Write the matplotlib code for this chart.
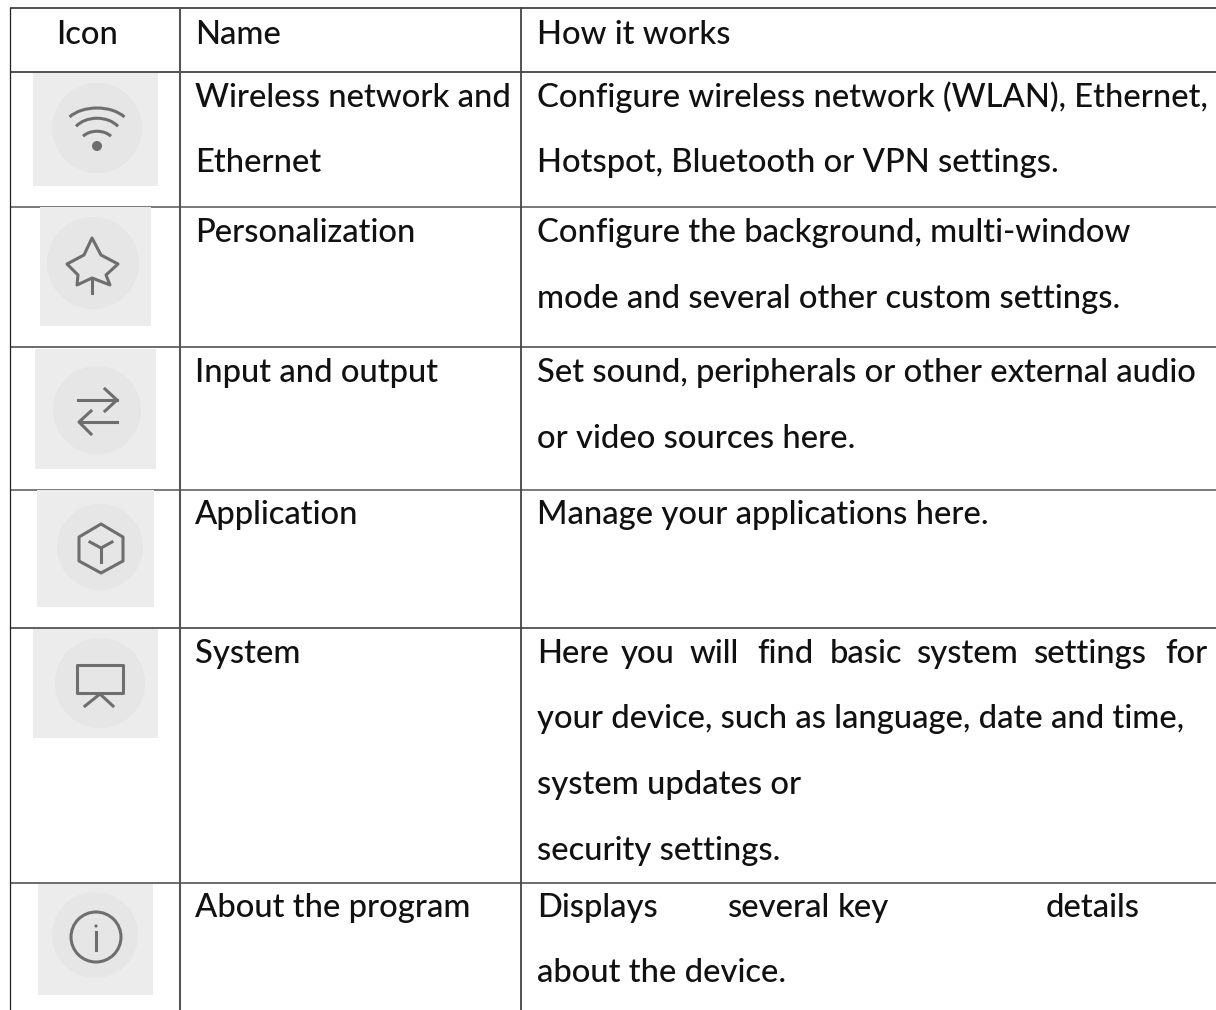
import matplotlib
matplotlib.use("Agg")
import matplotlib.pyplot as plt
from matplotlib.patches import Rectangle, Circle, Polygon, Arc

W, H = 1216, 1010

col_x = [10, 180, 521]
row_y = [7.5, 72, 206.5, 347, 490, 628, 883]
row_c = ["#222222", "#222222", "#555555", "#444444", "#555555", "#333333", "#444444"]

header = ["Icon", "Name", "How it works"]
names = [["Wireless network and", "Ethernet"], ["Personalization"], ["Input and output"],
         ["Application"], ["System"], ["About the program"]]
how = [["Configure wireless network (WLAN), Ethernet,", "Hotspot, Bluetooth or VPN settings."],
       ["Configure the background, multi-window", "mode and several other custom settings."],
       ["Set sound, peripherals or other external audio", "or video sources here."],
       ["Manage your applications here."],
       [None, "your device, such as language, date and time,", "system updates or", "security settings."],
       [None, "about the device."]]
first_base = [107, 242, 382, 524, 663, 917]

# words of the two justified lines, with their left edges
just_words = ["Here", "you", "will", "find", "basic", "system", "settings", "for"]
just_x = [537, 621, 690, 757, 830, 917, 1034, 1165]
disp_words = ["Displays", "several", "key", "details"]
disp_x = [537, 728, 838, 1046]

# left, top, right, bottom of the grey icon tiles and the round shade in them
tiles = [(33, 73, 158, 186), (40, 207, 151, 326), (35, 349, 156, 469),
         (37, 490, 154, 607), (33, 629, 158, 738), (38, 884, 153, 995)]
shades = [(97, 128, 45), (93, 263, 46), (97, 410, 44), (100, 547, 43), (100, 683, 45), (95, 935, 43)]

plt.rcParams['font.family'] = ['Lato', 'DejaVu Sans']
plt.rcParams['font.weight'] = 'medium'
fig = plt.figure(figsize=(W / 100, H / 100), dpi=100)
ax = fig.add_axes([0, 0, 1, 1])
ax.set_xlim(0, W)
ax.set_ylim(H, 0)
ax.axis("off")

for y, c in zip(row_y, row_c):
    ax.plot([col_x[0], W], [y, y], color=c, lw=1.1, solid_capstyle="butt")
ax.plot([col_x[0], col_x[0]], [row_y[0], H], color="#222222", lw=0.9)
ax.plot([col_x[1], col_x[1]], [row_y[0], H], color="#555555", lw=1.5)
ax.plot([col_x[2], col_x[2]], [row_y[0], H], color="#444444", lw=1.3)

fs = 23.6
tc = "#111111"
ax.text(87, 44, header[0], fontsize=fs, ha="center", va="baseline", color=tc)
ax.text(195, 44, header[1], fontsize=fs, va="baseline", color=tc)
ax.text(537, 44, header[2], fontsize=fs, va="baseline", color=tc)

line_gap = 65.5
for i in range(len(names)):
    base = first_base[i]
    for j, s in enumerate(names[i]):
        ax.text(195, base + j * line_gap, s, fontsize=fs, va="baseline", color=tc)
    for j, s in enumerate(how[i]):
        if s is not None:
            ax.text(537, base + j * line_gap, s, fontsize=fs, va="baseline", color=tc)
for s, x in zip(just_words, just_x):
    ax.text(x, first_base[4], s, fontsize=fs, va="baseline", color=tc)
for s, x in zip(disp_words, disp_x):
    ax.text(x, first_base[5], s, fontsize=fs, va="baseline", color=tc)

icon_c = "#6e6e6e"
ilw = 2.2
for (l, t, r, b), (sx, sy, sr) in zip(tiles, shades):
    ax.add_patch(Rectangle((l, t), r - l, b - t, fc="#ececec", ec="none", zorder=2))
    ax.add_patch(Circle((sx, sy), sr, fc="#e6e6e6", ec="none", zorder=2))

# wifi
for w_, h_, y_, a_ in [(67, 42, 129, 23.7), (51, 37.5, 137, 27), (34, 23.5, 143, 25.8)]:
    ax.add_patch(Arc((97, y_), w_, h_, theta1=180 + a_, theta2=360 - a_, color=icon_c, lw=ilw, zorder=3))
ax.add_patch(Circle((97, 146), 5, fc=icon_c, ec="none", zorder=3))
# star
ax.add_patch(Polygon([(92, 238), (101, 255), (118, 264), (106, 275), (110, 285), (92, 278),
                      (77, 285), (78, 275), (67, 264), (84, 255)],
                     closed=True, fc="none", ec=icon_c, lw=ilw, joinstyle="round", zorder=3))
ax.plot([92, 92], [278, 293], color=icon_c, lw=ilw, zorder=3)
# arrows
ax.plot([78, 117], [400, 400], color=icon_c, lw=ilw, zorder=3)
ax.plot([105, 117, 105], [389, 400, 411], color=icon_c, lw=ilw, zorder=3)
ax.plot([80, 117], [422, 422], color=icon_c, lw=ilw, zorder=3)
ax.plot([91, 79, 91], [411, 422, 434], color=icon_c, lw=ilw, zorder=3)
# cube
ax.add_patch(Polygon([(101, 524), (123, 537), (123, 561), (101, 573), (79, 561), (79, 537)],
                     closed=True, fc="none", ec=icon_c, lw=ilw, joinstyle="round", zorder=3))
ax.plot([90, 101, 112], [542, 548, 542], color=icon_c, lw=ilw, zorder=3)
ax.plot([101, 101], [548, 562], color=icon_c, lw=ilw, zorder=3)
# screen
ax.add_patch(Rectangle((77, 665), 46, 28, fc="none", ec=icon_c, lw=ilw, joinstyle="round", zorder=3))
ax.plot([85, 100, 113], [706, 694, 706], color=icon_c, lw=ilw, zorder=3)
# info
ax.add_patch(Circle((96, 937), 25, fc="none", ec=icon_c, lw=ilw, zorder=3))
ax.plot([96, 96], [932, 950], color=icon_c, lw=ilw, zorder=3)
ax.add_patch(Circle((96, 926), 1.6, fc=icon_c, ec="none", zorder=3))

fig.savefig("out.png", dpi=100)
